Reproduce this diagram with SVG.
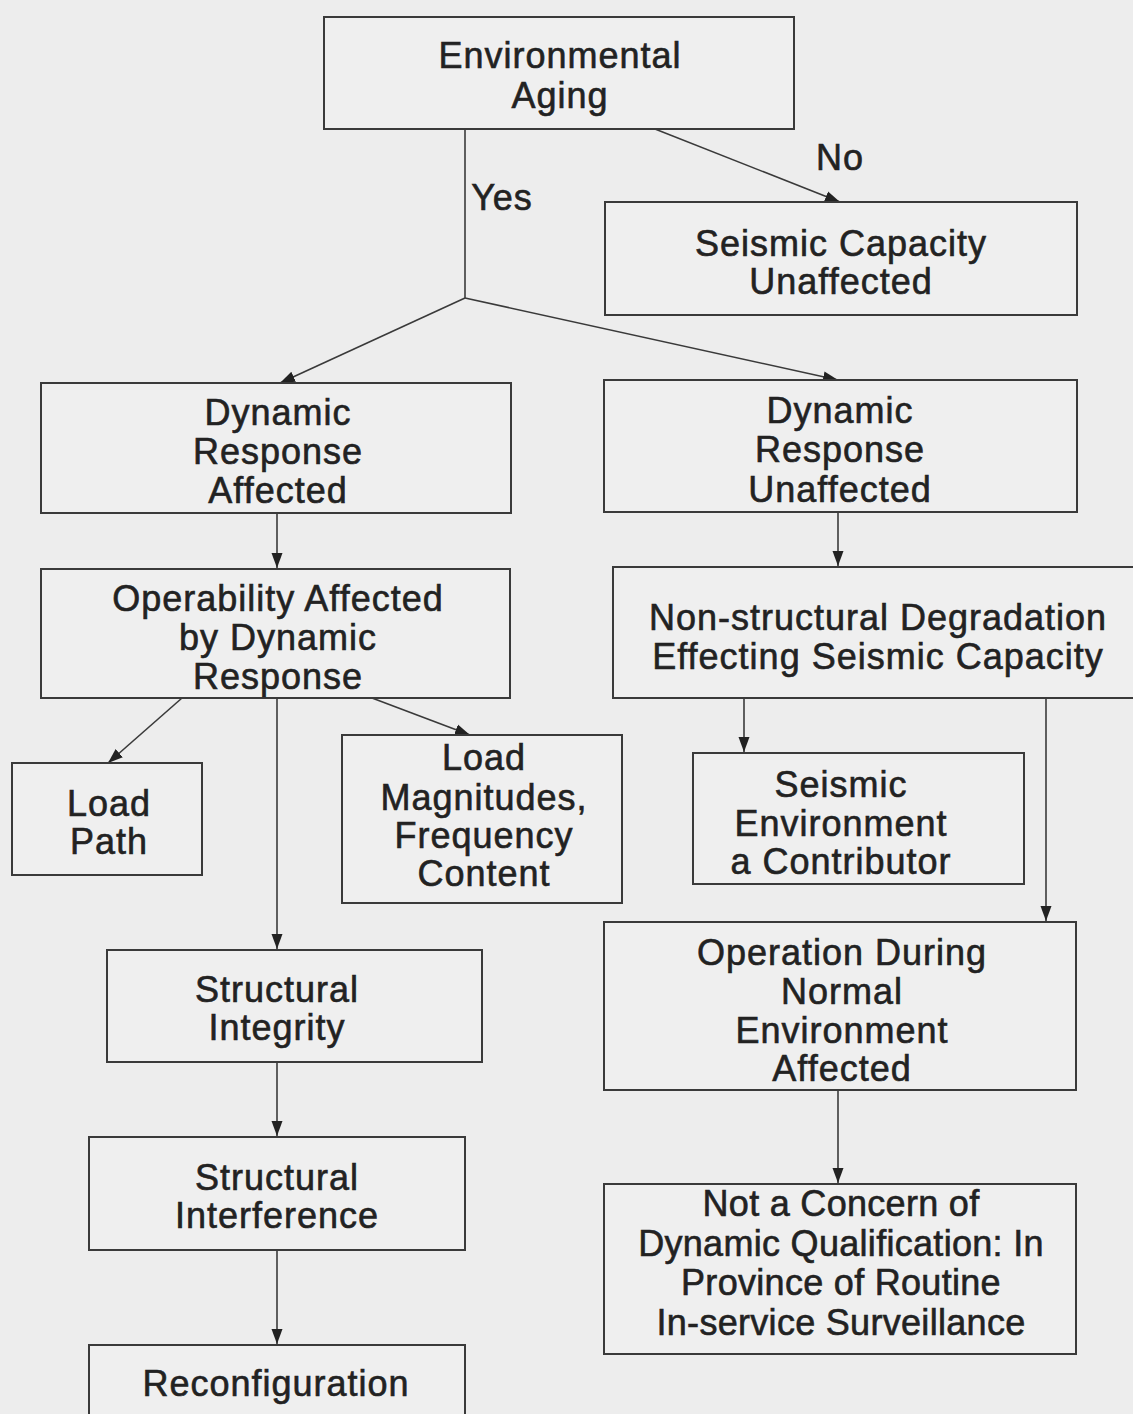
<svg xmlns="http://www.w3.org/2000/svg" width="1133" height="1414" viewBox="0 0 1133 1414">
<style>
.bg{fill:#ededed}
.box{fill:#efefef;stroke:#3a3a3a;stroke-width:2}
.t{font-family:"Liberation Sans",Arial,sans-serif;font-size:36px;fill:#222;stroke:#222;stroke-width:0.6;letter-spacing:1px;text-anchor:middle}
.n{letter-spacing:0.3px}
.c{fill:none;stroke:#3a3a3a;stroke-width:1.6}
</style>
<defs>
<marker id="ah" markerUnits="userSpaceOnUse" markerWidth="16" markerHeight="14" refX="15" refY="7" orient="auto">
<path d="M0,1.5 L15,7 L0,12.5 Z" fill="#222"/>
</marker>
</defs>
<rect class="bg" x="0" y="0" width="1133" height="1414"/>
<g id="connectors">
<polyline class="c" points="465,129 465,298"/>
<line class="c" x1="465" y1="298" x2="280" y2="383" marker-end="url(#ah)"/>
<line class="c" x1="465" y1="298" x2="838" y2="380" marker-end="url(#ah)"/>
<line class="c" x1="655" y1="129" x2="840" y2="202" marker-end="url(#ah)"/>
<line class="c" x1="277" y1="513" x2="277" y2="568" marker-end="url(#ah)"/>
<line class="c" x1="838" y1="512" x2="838" y2="566" marker-end="url(#ah)"/>
<line class="c" x1="182" y1="698" x2="108" y2="763" marker-end="url(#ah)"/>
<line class="c" x1="277" y1="698" x2="277" y2="949" marker-end="url(#ah)"/>
<line class="c" x1="372" y1="698" x2="470" y2="735" marker-end="url(#ah)"/>
<line class="c" x1="744" y1="698" x2="744" y2="752" marker-end="url(#ah)"/>
<line class="c" x1="1046" y1="698" x2="1046" y2="921" marker-end="url(#ah)"/>
<line class="c" x1="277" y1="1062" x2="277" y2="1136" marker-end="url(#ah)"/>
<line class="c" x1="277" y1="1250" x2="277" y2="1344" marker-end="url(#ah)"/>
<line class="c" x1="838" y1="1090" x2="838" y2="1183" marker-end="url(#ah)"/>
<text class="t" x="502" y="210">Yes</text>
<text class="t" x="840" y="170">No</text>
</g>
<g id="env-aging">
<rect class="box" x="324" y="17" width="470" height="112"/>
<text class="t" x="560" y="68">Environmental</text>
<text class="t" x="560" y="108">Aging</text>
</g>
<g id="seismic-unaffected">
<rect class="box" x="605" y="202" width="472" height="113"/>
<text class="t" x="841" y="256">Seismic Capacity</text>
<text class="t" x="841" y="294">Unaffected</text>
</g>
<g id="dyn-affected">
<rect class="box" x="41" y="383" width="470" height="130"/>
<text class="t" x="278" y="425">Dynamic</text>
<text class="t" x="278" y="464">Response</text>
<text class="t" x="278" y="503">Affected</text>
</g>
<g id="dyn-unaffected">
<rect class="box" x="604" y="380" width="473" height="132"/>
<text class="t" x="840" y="423">Dynamic</text>
<text class="t" x="840" y="462">Response</text>
<text class="t" x="840" y="502">Unaffected</text>
</g>
<g id="operability">
<rect class="box" x="41" y="569" width="469" height="129"/>
<text class="t" x="278" y="611">Operability Affected</text>
<text class="t" x="278" y="650">by Dynamic</text>
<text class="t" x="278" y="689">Response</text>
</g>
<g id="non-structural">
<rect class="box" x="613" y="567" width="530" height="131"/>
<text class="t" x="878" y="630">Non-structural Degradation</text>
<text class="t" x="878" y="669">Effecting Seismic Capacity</text>
</g>
<g id="load-path">
<rect class="box" x="12" y="763" width="190" height="112"/>
<text class="t" x="109" y="816">Load</text>
<text class="t" x="109" y="854">Path</text>
</g>
<g id="load-mag">
<rect class="box" x="342" y="735" width="280" height="168"/>
<text class="t" x="484" y="770">Load</text>
<text class="t" x="484" y="810">Magnitudes,</text>
<text class="t" x="484" y="848">Frequency</text>
<text class="t" x="484" y="886">Content</text>
</g>
<g id="seismic-env">
<rect class="box" x="693" y="753" width="331" height="131"/>
<text class="t" x="841" y="797">Seismic</text>
<text class="t" x="841" y="836">Environment</text>
<text class="t" x="841" y="874">a Contributor</text>
</g>
<g id="struct-integrity">
<rect class="box" x="107" y="950" width="375" height="112"/>
<text class="t" x="277" y="1002">Structural</text>
<text class="t" x="277" y="1040">Integrity</text>
</g>
<g id="operation-normal">
<rect class="box" x="604" y="922" width="472" height="168"/>
<text class="t" x="842" y="965">Operation During</text>
<text class="t" x="842" y="1004">Normal</text>
<text class="t" x="842" y="1043">Environment</text>
<text class="t" x="842" y="1081">Affected</text>
</g>
<g id="struct-interference">
<rect class="box" x="89" y="1137" width="376" height="113"/>
<text class="t" x="277" y="1190">Structural</text>
<text class="t" x="277" y="1228">Interference</text>
</g>
<g id="not-concern">
<rect class="box" x="604" y="1184" width="472" height="170"/>
<text class="t n" x="841" y="1216">Not a Concern of</text>
<text class="t n" x="841" y="1256">Dynamic Qualification: In</text>
<text class="t n" x="841" y="1295">Province of Routine</text>
<text class="t n" x="841" y="1335">In-service Surveillance</text>
</g>
<g id="reconfiguration">
<rect class="box" x="89" y="1345" width="376" height="100"/>
<text class="t" x="276" y="1396">Reconfiguration</text>
</g>
</svg>
